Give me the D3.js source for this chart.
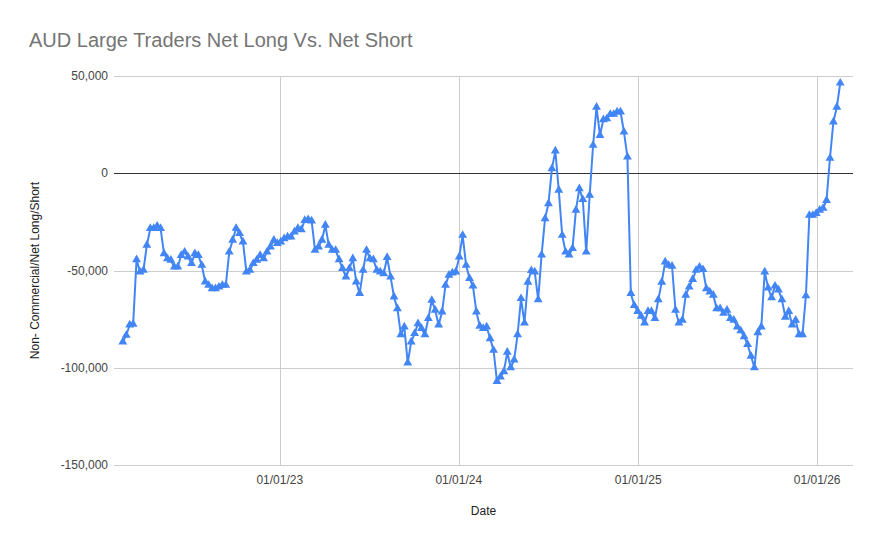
<!DOCTYPE html>
<html>
<head>
    <meta charset="utf-8">
    <title>AUD Large Traders Net Long Vs. Net Short</title>
    <style type="text/css">
        body {
            margin: 0;
            background: #ffffff;
        }

        .grid line {
            stroke: #cccccc;
            stroke-width: 1px;
            shape-rendering: crispEdges;
        }

        .zero-line {
            stroke: #333333;
            stroke-width: 1px;
            shape-rendering: crispEdges;
        }

        .tick-label {
            font-family: Arial, "Liberation Sans", sans-serif;
            font-size: 12px;
            fill: #444444;
        }

        .axis-title {
            font-family: Arial, "Liberation Sans", sans-serif;
            font-size: 12px;
            fill: #222222;
        }

        .chart-title {
            font-family: Arial, "Liberation Sans", sans-serif;
            font-size: 20px;
            fill: #757575;
        }

        .series-line {
            fill: none;
            stroke: #4285f4;
            stroke-width: 2px;
            stroke-linejoin: round;
        }

        .series-point {
            fill: #4285f4;
        }
    </style>
</head>
<body>
    <div id="chart"></div>
    <script src="https://cdn.jsdelivr.net/npm/d3@7"></script>
    <script>

      // weekly COT report dates, first report in the series
      var startDate = Date.UTC(2022, 1, 15);

      // non-commercial net long/short, one value per week
      var netPositions = [
        -86700, -83300, -78000, -77600, -44400, -50700, -49900, -37000, -28400, -28400,
        -27200, -28400, -41300, -43900, -44700, -48200, -48200, -42200, -40500, -43000,
        -46400, -41300, -42200, -47300, -55900, -57600, -59300, -59300, -58500, -57600,
        -57600, -40500, -34400, -28300, -31000, -35300, -50700, -49900, -46400, -44700,
        -42200, -43900, -40500, -37900, -34400, -36100, -35300, -33600, -32700, -32700,
        -30200, -28400, -29000, -24200, -23800, -24500, -39600, -37900, -34400, -26700,
        -37000, -39600, -39600, -44400, -49000, -53300, -49000, -43900, -55900, -61800,
        -49900, -39600, -43900, -44400, -49900, -50700, -51600, -43300, -53300, -63600,
        -69600, -83000, -79000, -97500, -86700, -82400, -77300, -79800, -83000, -74700,
        -65300, -70400, -78000, -71300, -57600, -52400, -51200, -50700, -43000, -31900,
        -47300, -54100, -58000, -71300, -78600, -79800, -79000, -85000, -91000, -107000,
        -104700, -102000, -92000, -100000, -96000, -83000, -64400, -77000, -56000, -50000,
        -50700, -65000, -42000, -23300, -15600, 2400, 11500, -8700, -31900, -40500,
        -42000, -38700, -19000, -7900, -13500, -40500, -11300, 14400, 34000, 19500,
        27600, 28000, 30300, 30300, 31500, 31500, 21200, 8400, -61800, -68000,
        -71000, -73500, -77000, -71000, -71000, -74700, -65000, -56000, -45600, -47300,
        -47800, -70400, -77000, -75500, -62700, -58500, -54600, -49900, -48200, -49500,
        -59300, -61000, -62700, -69600, -69600, -72000, -70400, -74700, -75500, -79000,
        -81000, -84000, -88000, -94000, -100000, -82000, -79000, -50700, -59000, -64000,
        -58000, -60000, -65000, -74000, -71000, -78000, -75500, -83000, -83000, -63000,
        -21600, -21600, -20600, -19000, -18000, -14000, 7700, 26400, 34000, 46400
      ];

      var yTicks = [50000, 0, -50000, -100000, -150000];
      var xTicks = [Date.UTC(2023, 0, 1), Date.UTC(2024, 0, 1), Date.UTC(2025, 0, 1), Date.UTC(2026, 0, 1)];

      var titleText = "AUD Large Traders Net Long Vs. Net Short",
          xTitle = "Date",
          yTitle = "Non- Commercial/Net Long/Short";

      var width = 880,
          height = 545,
          plot = {left: 114, right: 853, top: 76, bottom: 465};

      var weekMs = 7 * 24 * 3600 * 1000;
      var data = netPositions.map(function (v, i) {
        return {date: new Date(startDate + i * weekMs), value: v};
      });

      var svg = d3.select("#chart")
          .append("svg")
          .attr("width", width)
          .attr("height", height);

      //  Scales: x spans a little beyond the data like the sheets chart does
      var x = d3.scaleUtc()
          .domain([new Date(Date.UTC(2022, 0, 28)), new Date(Date.UTC(2026, 2, 15))])
          .range([plot.left, plot.right]);

      var y = d3.scaleLinear()
          .domain([-150000, 50000])
          .range([plot.bottom, plot.top]);

      //  Plain hyphen for negatives, as in the sheet
      var locale = d3.formatLocale({decimal: ".", thousands: ",", grouping: [3], currency: ["$", ""], minus: "-"});
      var fmt = locale.format(",");
      var dateFmt = d3.utcFormat("%m/%d/%y");

      //  Horizontal grid
      var grid = svg.append("g").attr("class", "grid");
      grid.selectAll("line.h")
          .data(yTicks.filter(function (d) { return d !== 0; }))
          .enter().append("line")
          .attr("class", "h")
          .attr("x1", plot.left)
          .attr("x2", plot.right)
          .attr("y1", function (d) { return Math.round(y(d)) + 0.5; })
          .attr("y2", function (d) { return Math.round(y(d)) + 0.5; });

      //  Vertical grid at year starts
      grid.selectAll("line.v")
          .data(xTicks)
          .enter().append("line")
          .attr("class", "v")
          .attr("x1", function (d) { return Math.round(x(d)) + 0.5; })
          .attr("x2", function (d) { return Math.round(x(d)) + 0.5; })
          .attr("y1", plot.top)
          .attr("y2", plot.bottom);

      //  Baseline at zero
      svg.append("line")
          .attr("class", "zero-line")
          .attr("x1", plot.left)
          .attr("x2", plot.right)
          .attr("y1", Math.round(y(0)) + 0.5)
          .attr("y2", Math.round(y(0)) + 0.5);

      //  Tick labels
      svg.append("g").selectAll("text")
          .data(yTicks)
          .enter().append("text")
          .attr("class", "tick-label")
          .attr("x", plot.left - 6)
          .attr("y", function (d) { return y(d); })
          .attr("dy", "0.35em")
          .attr("text-anchor", "end")
          .text(function (d) { return fmt(d); });

      svg.append("g").selectAll("text")
          .data(xTicks)
          .enter().append("text")
          .attr("class", "tick-label")
          .attr("x", function (d) { return x(d); })
          .attr("y", plot.bottom + 19)
          .attr("text-anchor", "middle")
          .text(function (d) { return dateFmt(new Date(d)); });

      //  Titles
      svg.append("text")
          .attr("class", "chart-title")
          .attr("x", 29)
          .attr("y", 47)
          .text(titleText);

      svg.append("text")
          .attr("class", "axis-title")
          .attr("x", (plot.left + plot.right) / 2)
          .attr("y", 515)
          .attr("text-anchor", "middle")
          .text(xTitle);

      svg.append("text")
          .attr("class", "axis-title")
          .attr("transform", "translate(39," + ((plot.top + plot.bottom) / 2) + ") rotate(-90)")
          .attr("text-anchor", "middle")
          .text(yTitle);

      //  Series line
      var line = d3.line()
          .x(function (d) { return x(d.date); })
          .y(function (d) { return y(d.value); });

      svg.append("path")
          .datum(data)
          .attr("class", "series-line")
          .attr("d", line);

      //  Triangle markers
      var tri = d3.symbol().type(d3.symbolTriangle).size(34);
      svg.append("g").selectAll("path")
          .data(data)
          .enter().append("path")
          .attr("class", "series-point")
          .attr("d", tri)
          .attr("transform", function (d) { return "translate(" + x(d.date) + "," + y(d.value) + ")"; });

    </script>
</body>
</html>
